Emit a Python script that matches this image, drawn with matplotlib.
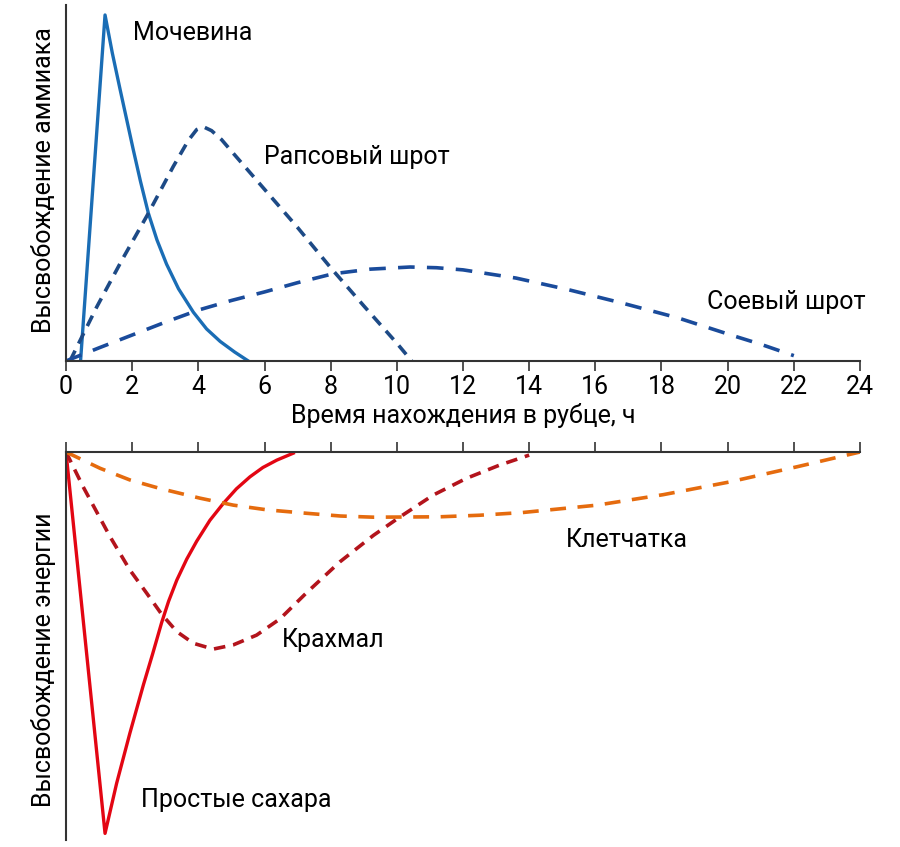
import matplotlib.pyplot as plt

plt.rcParams['font.family'] = ['Roboto', 'DejaVu Sans']
plt.rcParams['font.size'] = 18

# верхний график: высвобождение аммиака (0..1)
urea_x = [0.44, 1.18, 1.4, 1.63, 1.83, 2.03, 2.25, 2.49, 2.75, 3.04, 3.4, 3.85, 4.25, 4.66, 5.1, 5.51]
urea_y = [0.0, 0.972, 0.865, 0.765, 0.68, 0.595, 0.505, 0.415, 0.34, 0.272, 0.203, 0.137, 0.09, 0.055, 0.025, 0.0]

rape_x = [0.12, 0.93, 1.7, 2.49, 3.24, 3.7, 3.95, 4.15, 4.4, 4.7, 5.06, 5.76, 7.0, 8.0, 9.0, 10.0, 10.45]
rape_y = [0.0, 0.152, 0.285, 0.415, 0.546, 0.62, 0.65, 0.658, 0.647, 0.622, 0.583, 0.508, 0.375, 0.262, 0.155, 0.05, 0.0]

soy_x = [0.0, 1.0, 2.0, 3.0, 4.0, 5.0, 6.0, 7.0, 8.07, 9.2, 10.4, 11.2, 12.0, 13.6, 15.2, 16.8, 18.5, 20.1, 21.0, 22.0]
soy_y = [0.0, 0.037, 0.073, 0.109, 0.143, 0.17, 0.194, 0.22, 0.245, 0.258, 0.264, 0.262, 0.256, 0.233, 0.2, 0.163, 0.121, 0.073, 0.047, 0.015]

# нижний график: высвобождение энергии (глубина 0..1)
sugar_x = [0.0, 1.18, 1.53, 1.93, 2.34, 2.62, 2.89, 3.1, 3.35, 3.65, 3.95, 4.35, 4.76, 5.15, 5.56, 5.95, 6.37, 6.87]
sugar_y = [0.0, 0.983, 0.854, 0.725, 0.6, 0.52, 0.44, 0.385, 0.33, 0.276, 0.23, 0.176, 0.132, 0.095, 0.064, 0.04, 0.021, 0.003]

starch_x = [0.0, 0.52, 1.33, 1.93, 2.44, 2.89, 3.35, 3.85, 4.45, 5.06, 5.76, 6.47, 7.28, 8.28, 9.29, 10.1, 11.1, 12.1, 13.1, 14.0]
starch_y = [0.0, 0.09, 0.218, 0.304, 0.364, 0.418, 0.463, 0.493, 0.508, 0.497, 0.472, 0.43, 0.362, 0.283, 0.215, 0.167, 0.111, 0.068, 0.034, 0.008]

fiber_x = [0.0, 1.03, 1.93, 2.84, 4.05, 5.06, 6.07, 7.28, 8.3, 9.29, 11.3, 12.5, 13.8, 16.05, 18.05, 20.07, 22.1, 24.0]
fiber_y = [0.0, 0.042, 0.072, 0.094, 0.119, 0.137, 0.149, 0.158, 0.165, 0.168, 0.167, 0.163, 0.156, 0.137, 0.11, 0.077, 0.038, 0.0]

xticks = list(range(0, 25, 2))

fig = plt.figure(figsize=(9, 8.47), dpi=100)
ax1 = fig.add_axes([66 / 900, 1 - 361 / 847, 794 / 900, 356 / 847])
ax2 = fig.add_axes([66 / 900, 1 - 840 / 847, 794 / 900, 388 / 847])

spine_c = '#333333'

ax1.plot(urea_x, urea_y, color='#1a6db5', lw=2.4)
ax1.plot(rape_x, rape_y, color='#1d4a86', lw=2.6, dashes=(3.2, 2.2))
ax1.plot(soy_x, soy_y, color='#1a4b9b', lw=2.6, dashes=(4.6, 3.4))
ax1.set_xlim(0, 24)
ax1.set_ylim(0, 1)
ax1.set_xticks(xticks)
ax1.set_yticks([])
for s in ['top', 'right']:
    ax1.spines[s].set_visible(False)
for s in ['left', 'bottom']:
    ax1.spines[s].set_color(spine_c)
    ax1.spines[s].set_linewidth(1.5)
ax1.tick_params(axis='x', direction='out', length=7, width=1.2, color=spine_c, pad=3)
ax1.set_xlabel('Время нахождения в рубце, ч', labelpad=3)

ax1.text(2.03, 0.92, 'Мочевина', va='center', ha='left')
ax1.text(5.99, 0.573, 'Рапсовый шрот', va='center', ha='left')
ax1.text(19.38, 0.166, 'Соевый шрот', va='center', ha='left')

ax2.plot(sugar_x, sugar_y, color='#e30613', lw=2.4)
ax2.plot(starch_x, starch_y, color='#b3141c', lw=2.6, dashes=(3.2, 2.2))
ax2.plot(fiber_x, fiber_y, color='#e56b0e', lw=2.6, dashes=(4.4, 3.2))
ax2.set_xlim(0, 24)
ax2.set_ylim(1, 0)
ax2.set_xticks(xticks)
ax2.set_yticks([])
ax2.xaxis.tick_top()
ax2.tick_params(axis='x', direction='out', length=7, width=1.2, color=spine_c, labeltop=False)
for s in ['bottom', 'right']:
    ax2.spines[s].set_visible(False)
for s in ['left', 'top']:
    ax2.spines[s].set_color(spine_c)
    ax2.spines[s].set_linewidth(1.5)

ax2.text(15.1, 0.227, 'Клетчатка', va='center', ha='left')
ax2.text(6.53, 0.485, 'Крахмал', va='center', ha='left')
ax2.text(2.27, 0.897, 'Простые сахара', va='center', ha='left')

fig.text(44 / 900, 1 - 180 / 847, 'Высвобождение аммиака', rotation=90, ha='center', va='center')
fig.text(44 / 900, 1 - 660 / 847, 'Высвобождение энергии', rotation=90, ha='center', va='center')

fig.savefig('out.png', dpi=100)
